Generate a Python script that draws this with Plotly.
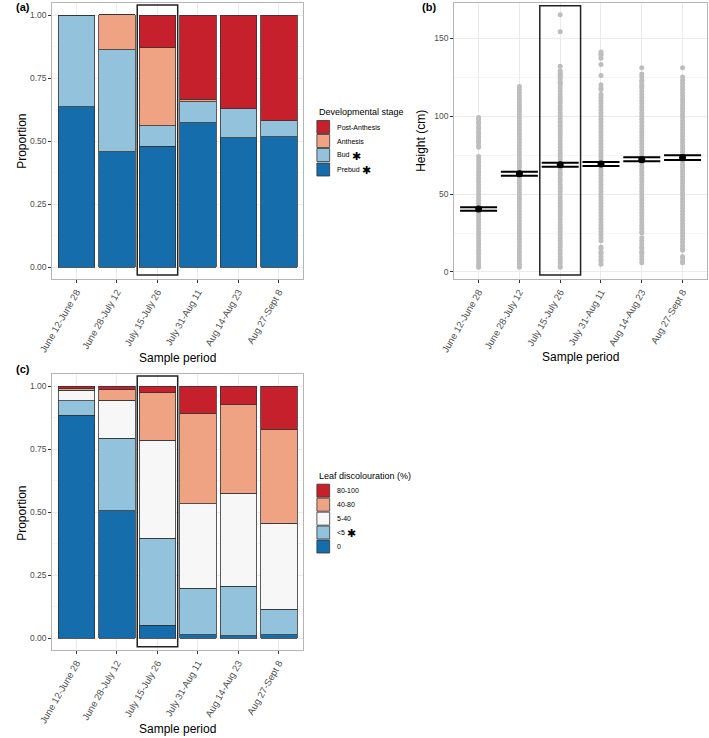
import plotly.graph_objects as go

W, H = 709, 738

periods = ["June 12-June 28", "June 28-July 12", "July 15-July 26",
           "July 31-Aug 11", "Aug 14-Aug 23", "Aug 27-Sept 8"]

# (a) developmental stage proportions, stacked bottom -> top
stages = ["Prebud", "Bud", "Anthesis", "Post-Anthesis"]
prebud = [0.636, 0.457, 0.480, 0.573, 0.513, 0.517]
bud = [0.364, 0.405, 0.081, 0.083, 0.114, 0.064]
anthesis = [0.0, 0.139, 0.309, 0.009, 0.0, 0.0]
post_anthesis = [0.0, 0.0, 0.130, 0.335, 0.373, 0.419]

# (c) leaf discolouration proportions, stacked bottom -> top
leaf_classes = ["0", "<5", "5-40", "40-80", "80-100"]
leaf_0 = [0.884, 0.504, 0.050, 0.012, 0.009, 0.012]
leaf_lt5 = [0.058, 0.288, 0.346, 0.185, 0.196, 0.102]
leaf_5_40 = [0.041, 0.152, 0.388, 0.335, 0.369, 0.341]
leaf_40_80 = [0.008, 0.044, 0.189, 0.360, 0.351, 0.373]
leaf_80_100 = [0.009, 0.012, 0.027, 0.108, 0.075, 0.172]

# (b) plant heights (cm) per sample period, as read from the dot columns
h_jun12 = [99, 98, 96, 95, 93, 92, 90, 89, 87, 86, 84, 83, 81, 80,
           74, 72, 70, 68, 66, 64, 62, 60, 58, 56, 54, 52, 50, 48, 46, 44, 42, 40,
           38, 36, 34, 32, 30, 28, 26, 24, 22, 20, 18, 16, 14, 12, 10, 8, 6, 4, 3]
h_jun28 = [119, 117, 115, 113, 111, 109, 107, 105, 103, 101, 99, 97, 95, 93, 91,
           89, 87, 85, 83, 81, 79, 77, 75, 73, 71, 69, 67, 65, 63, 61, 59, 57, 55,
           53, 51, 49, 47, 45, 43, 41, 39, 37, 35, 33, 31, 29, 27, 25, 23, 21, 19,
           17, 15, 13, 11, 9, 7, 5, 3]
h_jul15 = [165, 154, 132, 129, 128, 127, 126, 125, 124, 122, 121,
           120, 118, 116, 114, 112, 110, 108, 106, 104, 102, 100, 98, 96, 94, 92,
           90, 88, 86, 84, 82, 80, 78, 76, 74, 72, 70, 68, 66, 64, 62, 60, 58, 56,
           54, 52, 50, 48, 46, 44, 42, 40, 38, 36, 34, 32, 30, 28, 26, 24, 22, 20,
           18, 16, 14, 12, 10, 8, 6, 4, 3]
h_jul31 = [141, 140, 139, 137, 133, 126, 120, 118, 117,
           114, 112, 110, 108, 106, 104, 102, 100, 98, 96, 94, 92, 90, 88, 86, 84,
           82, 80, 78, 76, 74, 72, 70, 68, 66, 64, 62, 60, 58, 56, 54, 52, 50, 48,
           46, 44, 42, 40, 38, 36, 34, 32, 30, 28, 26, 24, 22, 20,
           16, 15, 13, 12, 10, 8, 7, 5]
h_aug14 = [131, 127, 125, 123, 122, 120, 119, 118,
           116, 114, 112, 110, 108, 106, 104, 102, 100, 98, 96, 94, 92, 90, 88, 86,
           84, 82, 80, 78, 76, 74, 72, 70, 68, 66, 64, 62, 60, 58, 56, 54, 52, 50,
           48, 46, 44, 42, 40, 38, 36, 34, 32, 30, 28, 26, 25,
           22, 20, 18, 16, 15, 13, 12, 10, 8, 6]
h_aug27 = [131,
           125, 123, 121, 119, 117, 115, 113, 111, 109, 107, 105, 103, 101, 99, 97,
           95, 93, 91, 89, 87, 85, 83, 81, 79, 77, 75, 73, 71, 69, 67, 65, 63, 61,
           59, 57, 55, 53, 51, 49, 47, 45, 43, 41, 39, 37, 35, 33, 31, 29, 27,
           25, 23, 21, 19, 17, 15, 14, 10, 9, 7, 6]
height_cols = [h_jun12, h_jun28, h_jul15, h_jul31, h_aug14, h_aug27]

h_mean = [40.4, 63.0, 68.8, 69.2, 72.0, 73.3]
h_upper = [41.5, 64.3, 70.1, 70.6, 73.6, 74.8]
h_lower = [39.3, 61.7, 67.5, 67.9, 71.0, 71.8]

RED, SALMON, WHITE, LBLUE, BLUE = "#c6202c", "#f0a382", "#f8f7f8", "#93c3dc", "#156dab"
FONT = "Liberation Sans, Arial, sans-serif"
TXT = "#4d4d4d"
GRID = "#ebebeb"


def px(x, y):
    return x / W, 1 - y / H


def dom_x(x0, x1):
    return [x0 / W, x1 / W]


def dom_y(y0, y1):
    return [1 - y1 / H, 1 - y0 / H]


fig = go.Figure()

stage_vals = [prebud, bud, anthesis, post_anthesis]
stage_cols = [BLUE, LBLUE, SALMON, RED]
for name, vals, col in zip(stages, stage_vals, stage_cols):
    fig.add_trace(go.Bar(x=periods, y=vals, name=name, width=0.9, marker_color=col,
                         marker_line=dict(color="#333333", width=0.8),
                         xaxis="x", yaxis="y", showlegend=False))

leaf_vals = [leaf_0, leaf_lt5, leaf_5_40, leaf_40_80, leaf_80_100]
leaf_cols = [BLUE, LBLUE, WHITE, SALMON, RED]
for name, vals, col in zip(leaf_classes, leaf_vals, leaf_cols):
    fig.add_trace(go.Bar(x=periods, y=vals, name=name, width=0.9, marker_color=col,
                         marker_line=dict(color="#333333", width=0.8),
                         xaxis="x3", yaxis="y3", showlegend=False))

for p, col in zip(periods, height_cols):
    fig.add_trace(go.Scatter(x=[p] * len(col), y=col, mode="markers",
                             marker=dict(color="#bdbdbd", size=5),
                             xaxis="x2", yaxis="y2", showlegend=False))

fig.add_trace(go.Scatter(
    x=periods, y=h_mean, mode="markers",
    marker=dict(color="black", size=7),
    error_y=dict(type="data", symmetric=False,
                 array=[u - m for u, m in zip(h_upper, h_mean)],
                 arrayminus=[m - l for m, l in zip(h_mean, h_lower)],
                 color="black", thickness=2, width=18.5),
    xaxis="x2", yaxis="y2", showlegend=False))


def xaxis(domain, anchor):
    return dict(domain=domain, anchor=anchor, range=[-0.6, 5.6], tickangle=-60,
                tickfont=dict(size=9.5, color=TXT, family=FONT),
                showgrid=True, gridcolor=GRID, ticks="outside", ticklen=3,
                tickcolor="#333333", showline=True, mirror=True,
                linecolor="#b5b5b5", linewidth=1, zeroline=False)


def yaxis(domain, anchor, rng, tickvals, ticktext, minor_vals):
    return dict(domain=domain, anchor=anchor, range=rng, tickvals=tickvals,
                ticktext=ticktext, tickfont=dict(size=8.5, color=TXT, family=FONT),
                showgrid=True, gridcolor=GRID, ticks="outside", ticklen=3,
                tickcolor="#333333", showline=True, mirror=True,
                linecolor="#b5b5b5", linewidth=1, zeroline=False,
                minor=dict(tickvals=minor_vals, showgrid=True, gridcolor="#f5f5f5", ticks=""))


prop_ticks = [0, 0.25, 0.5, 0.75, 1.0]
prop_text = ["0.00", "0.25", "0.50", "0.75", "1.00"]
prop_minor = [0.125, 0.375, 0.625, 0.875]

fig.update_layout(
    width=W, height=H, autosize=False, margin=dict(l=0, r=0, t=0, b=0),
    paper_bgcolor="white", plot_bgcolor="white", barmode="stack",
    font=dict(family=FONT, color="black"),
    xaxis=xaxis(dom_x(39, 295), "y"),
    yaxis=yaxis(dom_y(3, 279), "x", [-0.0476, 1.0476], prop_ticks, prop_text, prop_minor),
    xaxis2=xaxis(dom_x(449, 707), "y2"),
    yaxis2=yaxis(dom_y(3, 279), "x2", [-4.5, 172.5], [0, 50, 100, 150],
                 ["0", "50", "100", "150"], [25, 75, 125]),
    xaxis3=xaxis(dom_x(39, 295), "y3"),
    yaxis3=yaxis(dom_y(374, 650), "x3", [-0.0476, 1.0476], prop_ticks, prop_text, prop_minor),
)

shapes = []
annotations = []

# highlighted sample period boxes
for xa, ya, y0, y1 in [("x", "y", -0.032, 1.04), ("x2", "y2", -2, 170.7), ("x3", "y3", -0.035, 1.04)]:
    shapes.append(dict(type="rect", xref=xa, yref=ya, x0=1.5, x1=2.5, y0=y0, y1=y1,
                       line=dict(color="#222222", width=1.5), fillcolor="rgba(0,0,0,0)",
                       layer="above"))


def ann(text, x, y, size, xanchor="center", yanchor="middle", angle=0, bold=False, color="black"):
    ax, ay = px(x, y)
    annotations.append(dict(text=f"<b>{text}</b>" if bold else text, x=ax, y=ay,
                            xref="paper", yref="paper", showarrow=False,
                            xanchor=xanchor, yanchor=yanchor, textangle=angle,
                            font=dict(size=size, family=FONT, color=color)))


ann("(a)", 0, 7, 11, xanchor="left", bold=True)
ann("(b)", 414, 7, 11, xanchor="left", bold=True)
ann("(c)", 0, 369, 11, xanchor="left", bold=True)
ann("Proportion", 8, 141, 12, angle=-90)
ann("Proportion", 8, 513, 12, angle=-90)
ann("Height (cm)", 415, 141, 12, angle=-90)
ann("Sample period", 167, 358, 12)
ann("Sample period", 578, 357, 12)
ann("Sample period", 167, 729, 12)


def legend(title, title_y, names, colors, centers, star_idx, star_dx):
    ann(title, 309, title_y, 9, xanchor="left")
    for i, (n, c, cy) in enumerate(zip(names, colors, centers)):
        x0, y0 = px(309, cy - 6.5)
        x1, y1 = px(322, cy + 6.5)
        shapes.append(dict(type="rect", xref="paper", yref="paper", x0=x0, x1=x1, y0=y0, y1=y1,
                           fillcolor=c, line=dict(color="#333333", width=0.8)))
        ann(n, 327, cy, 7, xanchor="left")
        if i in star_idx:
            ann("✱", 327 + star_dx[star_idx.index(i)], cy + 0.5, 11, xanchor="left")


legend("Developmental stage", 112, stages[::-1], stage_cols[::-1],
       [127, 141, 155, 169.5], [2, 3], [16, 26])
legend("Leaf discolouration (%)", 476, leaf_classes[::-1], leaf_cols[::-1],
       [490.7, 504.7, 518.7, 532.5, 546.5], [3], [11])

fig.update_layout(shapes=shapes, annotations=annotations)

fig.write_html("out.html", config={"displayModeBar": False},
               post_script="document.body.style.margin='0';")
